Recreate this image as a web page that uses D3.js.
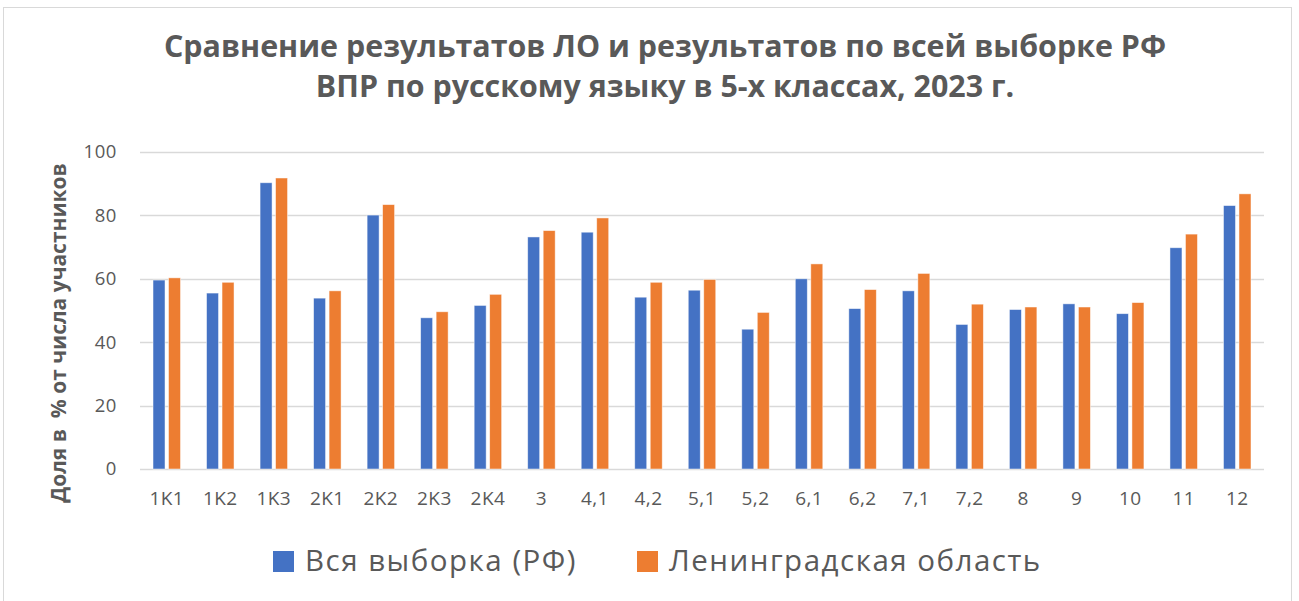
<!DOCTYPE html>
<html lang="ru">
<head>
<meta charset="UTF-8">
<title>Сравнение результатов ЛО и РФ</title>
<script src="https://d3js.org/d3.v7.min.js"></script>
<style>
  html, body { margin: 0; padding: 0; background: #fff; }
  svg { display: block; font-family: "Open Sans", "Noto Sans", sans-serif; }
</style>
</head>
<body>
<svg id="chart" width="1299" height="601"></svg>
<script>
// data
const categories = ["1K1", "1K2", "1K3", "2K1", "2K2", "2K3", "2K4", "3", "4,1", "4,2", "5,1",
                    "5,2", "6,1", "6,2", "7,1", "7,2", "8", "9", "10", "11", "12"];
const russiaValues = [59.6, 55.5, 90.3, 53.9, 80.1, 47.7, 51.6, 73.2, 74.7, 54.2, 56.4,
                      44.1, 60.0, 50.6, 56.2, 45.6, 50.3, 52.1, 49.0, 69.8, 83.1];
const regionValues = [60.3, 58.9, 91.8, 56.2, 83.4, 49.6, 55.1, 75.2, 79.2, 58.9, 59.8,
                      49.4, 64.7, 56.6, 61.7, 52.0, 51.1, 51.1, 52.5, 74.1, 86.8];
const seriesNames = ["Вся выборка (РФ)", "Ленинградская область"];
const seriesColors = ["#4472c4", "#ed7d31"];
const yTicks = [0, 20, 40, 60, 80, 100];
const titleLines = ["Сравнение результатов ЛО и результатов по всей выборке РФ",
                    "ВПР по русскому языку в 5-х классах, 2023 г."];
const yAxisTitle = "Доля в  % от числа участников";

const svg = d3.select("#chart");
const margin = { left: 140, right: 35, top: 152, bottom: 132 };
const W = 1299, H = 601;
const textColor = "#595959";

// outer chart border
svg.append("rect")
    .attr("x", 3.5).attr("y", 7.5)
    .attr("width", 1288).attr("height", 620)
    .attr("fill", "#fff").attr("stroke", "#d9d9d9").attr("stroke-width", 1);

const x = d3.scaleBand()
    .domain(categories)
    .range([margin.left, W - margin.right]);

const x1 = d3.scaleBand()
    .domain([0, 1])
    .range([0, x.bandwidth()])
    .paddingInner(0.226)
    .paddingOuter(0.84);

const y = d3.scaleLinear()
    .domain([0, 100])
    .range([H - margin.bottom, margin.top]);

// gridlines
svg.append("g")
    .selectAll("line")
    .data(yTicks)
    .join("line")
    .attr("x1", margin.left).attr("x2", W - margin.right)
    .attr("y1", d => Math.round(y(d)) + 0.5).attr("y2", d => Math.round(y(d)) + 0.5)
    .attr("stroke", "#d9d9d9").attr("stroke-width", 1.3);

// y axis labels
const yAxis = svg.append("g")
    .attr("transform", `translate(${margin.left - 23},0)`)
    .call(d3.axisLeft(y).tickValues(yTicks).tickSize(0).tickPadding(0));
yAxis.select(".domain").remove();
yAxis.selectAll("text")
    .attr("fill", textColor)
    .style("font-size", "18.5px")
    .style("letter-spacing", "0.6px")
    .style("font-family", "'Open Sans', sans-serif");

// bars
const series = [russiaValues, regionValues];
series.forEach((vals, s) => {
  svg.append("g")
    .selectAll("rect")
    .data(categories)
    .join("rect")
    .attr("x", (c) => x(c) + x1(s))
    .attr("width", x1.bandwidth())
    .attr("y", (c, i) => y(vals[i]))
    .attr("height", (c, i) => y(0) - y(vals[i]))
    .attr("fill", seriesColors[s])
    .attr("stroke", "#fff")
    .attr("stroke-opacity", 0.6)
    .attr("stroke-width", 0.8);
});

// x axis labels
const xAxis = svg.append("g")
    .attr("transform", `translate(0,${y(0) + 22})`)
    .call(d3.axisBottom(x).tickSize(0).tickPadding(0));
xAxis.select(".domain").remove();
xAxis.selectAll("text")
    .attr("fill", textColor)
    .attr("dy", "0.71em")
    .style("font-size", "19px")
    .style("letter-spacing", "0.4px")
    .style("font-family", "'Open Sans', sans-serif");

// y axis title
svg.append("text")
    .attr("transform", `translate(66,333) rotate(-90)`)
    .attr("text-anchor", "middle")
    .attr("fill", textColor)
    .style("font-size", "21px")
    .style("font-weight", "bold")
    .style("white-space", "pre")
    .attr("xml:space", "preserve")
    .text(yAxisTitle);

// title
svg.append("g")
    .selectAll("text")
    .data(titleLines)
    .join("text")
    .attr("x", 665)
    .attr("y", (d, i) => 57 + i * 40)
    .attr("text-anchor", "middle")
    .attr("fill", textColor)
    .style("font-size", "30.4px")
    .style("font-weight", "bold")
    .text(d => d);

// legend
const legendItems = [
  { name: seriesNames[0], color: seriesColors[0], x: 273 },
  { name: seriesNames[1], color: seriesColors[1], x: 637 }
];
const legend = svg.append("g");
legendItems.forEach(it => {
  legend.append("rect")
    .attr("x", it.x).attr("y", 551)
    .attr("width", 21).attr("height", 21)
    .attr("fill", it.color);
  legend.append("text")
    .attr("x", it.x + 32).attr("y", 571)
    .attr("fill", textColor)
    .style("font-size", "29.5px")
    .style("letter-spacing", "1.5px")
    .text(it.name);
});
</script>
</body>
</html>
